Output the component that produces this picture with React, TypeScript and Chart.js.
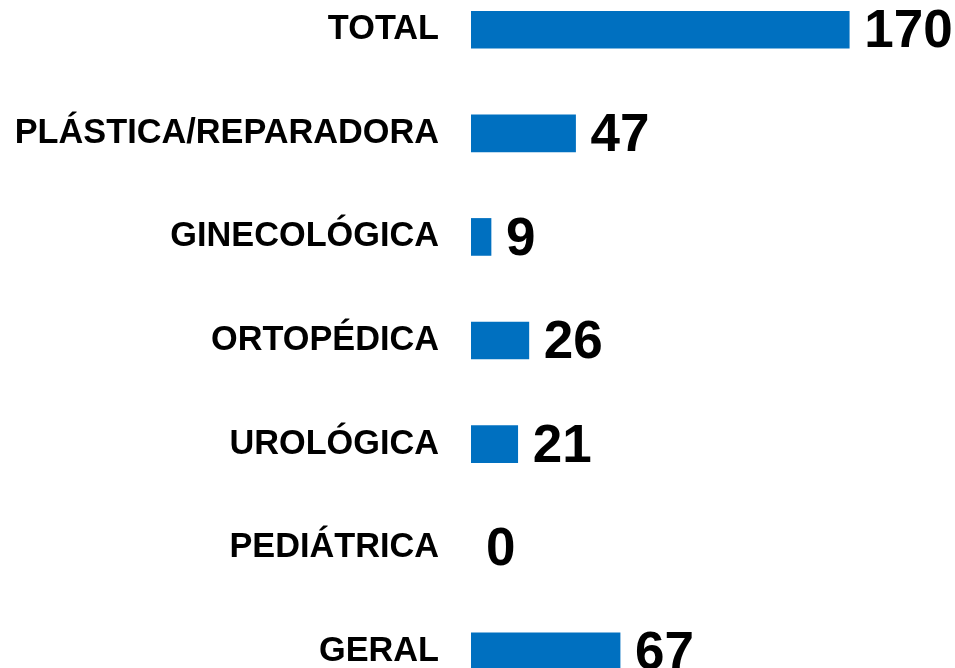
import React, { useEffect, useRef } from "react";
import { Chart, registerables } from "chart.js";

Chart.register(...registerables);

const categories = [
  "TOTAL",
  "PLÁSTICA/REPARADORA",
  "GINECOLÓGICA",
  "ORTOPÉDICA",
  "UROLÓGICA",
  "PEDIÁTRICA",
  "GERAL",
];
const values = [170, 47, 9, 26, 21, 0, 67];

const FONT = "'Liberation Sans', Arial, Helvetica, sans-serif";

const valueLabelPlugin = {
  id: "valueLabels",
  afterDatasetsDraw(chart: any) {
    const ctx = chart.ctx;
    const meta = chart.getDatasetMeta(0);
    ctx.save();
    ctx.font = `bold 53px ${FONT}`;
    ctx.fillStyle = "#000000";
    ctx.textAlign = "left";
    ctx.textBaseline = "middle";
    meta.data.forEach((bar: any, i: number) => {
      ctx.fillText(String(values[i]), bar.x + 15, bar.y + 3);
    });
    ctx.restore();
  },
};

export default function App() {
  const canvasRef = useRef<HTMLCanvasElement | null>(null);

  useEffect(() => {
    if (!canvasRef.current) return;
    const chart = new Chart(canvasRef.current, {
      type: "bar",
      data: {
        labels: categories,
        datasets: [
          {
            data: values,
            backgroundColor: values.map((v) => (v === 0 ? "rgba(0,0,0,0)" : "#0070C0")),
            borderWidth: 0,
            barThickness: 37,
          },
        ],
      },
      options: {
        indexAxis: "y",
        responsive: false,
        animation: false,
        layout: { padding: { left: 0, right: 39, top: 0, bottom: 0 } },
        plugins: {
          legend: { display: false },
          tooltip: { enabled: false },
        },
        scales: {
          x: {
            display: false,
            min: 0,
            max: 200,
          },
          y: {
            afterFit(scale: any) {
              scale.width = 471;
              scale.paddingTop = 0;
              scale.paddingBottom = 0;
            },
            grid: { display: false, drawTicks: false },
            border: { display: false },
            ticks: {
              padding: 32,
              color: "#000000",
              font: { family: FONT, size: 34.3, weight: "bold" },
            },
          },
        },
      },
      plugins: [valueLabelPlugin],
    });
    return () => chart.destroy();
  }, []);

  return (
    <div style={{ position: "absolute", left: 0, top: -22, width: 955, height: 725 }}>
      <canvas ref={canvasRef} width={955} height={725} style={{ display: "block" }} />
    </div>
  );
}
